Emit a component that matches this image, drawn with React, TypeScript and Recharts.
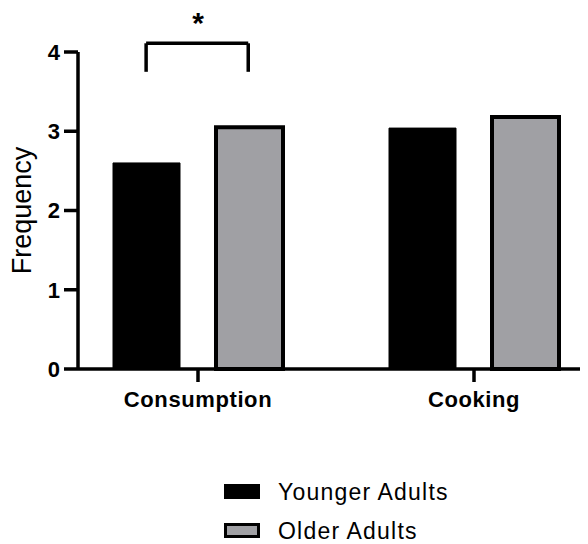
import React from 'react';
import { BarChart, Bar, XAxis, YAxis, Legend, ReferenceLine, ReferenceDot, Label } from 'recharts';

const categories = ['Consumption', 'Cooking'];
const youngerAdults = [2.6, 3.04];
const olderAdults = [3.05, 3.18];
const yTicks = [0, 1, 2, 3, 4];
const seriesNames = ['Younger Adults', 'Older Adults'];
// bracket positions on a 0..1 horizontal scale spanning the two category bands
const bracketX = [0.156, 0.341];
const bracketY = [3.75, 4.11];
const starPos = [0.25, 4.37];

const data = categories.map((c, i) => ({
  category: c,
  younger: youngerAdults[i],
  older: olderAdults[i],
}));

const FONT = '"Liberation Sans", Arial, sans-serif';
const AX = { stroke: '#000', strokeWidth: 3.5 };

const renderLegend = (props: any) => {
  const payload = [...(props.payload || [])].sort(
    (a: any, b: any) => seriesNames.indexOf(a.value) - seriesNames.indexOf(b.value)
  );
  return (
    <div style={{ paddingLeft: 224, fontFamily: FONT, fontSize: 23, letterSpacing: 1.2, color: '#000' }}>
      {payload.map((e: any, i: number) => (
        <div key={i} style={{ display: 'flex', alignItems: 'flex-start', height: 39 }}>
          <svg width={36} height={15} style={{ display: 'block', marginTop: 5 }}>
            <rect x={1.5} y={1.5} width={33} height={12} fill={e.color} stroke="#000" strokeWidth={3} />
          </svg>
          <span style={{ marginLeft: 18, lineHeight: '26px' }}>{e.value}</span>
        </div>
      ))}
    </div>
  );
};

const yLabel = (props: any) => {
  const { viewBox } = props;
  const cx = viewBox.x + 14;
  const cy = viewBox.y + viewBox.height / 2;
  return (
    <text x={cx} y={cy} transform={`rotate(-90, ${cx}, ${cy})`} textAnchor="middle" dominantBaseline="central"
      fontFamily={FONT} fontSize={27} fill="#000">
      Frequency
    </text>
  );
};

export default function App() {
  return (
    <div style={{ marginTop: -8, marginLeft: -8, width: 588, height: 544 }}>
      <BarChart
        width={588}
        height={544}
        data={data}
        margin={{ top: 52, right: 0, left: 8, bottom: 125 }}
        barSize={67}
        barGap={36}
      >
        <XAxis
          dataKey="category"
          padding={{ left: -18, right: -24 }}
          axisLine={AX}
          tickLine={AX}
          tickSize={13}
          tickMargin={9}
          height={50}
          tick={{ fontFamily: FONT, fontSize: 22, fontWeight: 'bold', fill: '#000', letterSpacing: 0.6 }}
        />
        <XAxis
          xAxisId="num"
          type="number"
          domain={[0, 1]}
          allowDataOverflow
          padding={{ left: -18, right: -24 }}
          hide
        />
        <YAxis
          width={70}
          domain={[0, 4]}
          ticks={yTicks}
          interval={0}
          axisLine={AX}
          tickLine={AX}
          tickSize={14}
          tickMargin={4}
          tick={{ fontFamily: FONT, fontSize: 22, fontWeight: 'bold', fill: '#000' }}
        >
          <Label content={yLabel} />
        </YAxis>
        <Legend
          layout="horizontal"
          verticalAlign="middle"
          align="center"
          content={renderLegend}
          wrapperStyle={{ top: 479, left: 0, width: 588 }}
        />
        <Bar dataKey="younger" name={seriesNames[0]} fill="#000" stroke="#000" strokeWidth={1} isAnimationActive={false} />
        <Bar dataKey="older" name={seriesNames[1]} fill="#a0a0a4" stroke="#000" strokeWidth={4} isAnimationActive={false} />
        <ReferenceLine xAxisId="num" ifOverflow="visible" segment={[{ x: bracketX[0], y: bracketY[1] }, { x: bracketX[1], y: bracketY[1] }]} stroke="#000" strokeWidth={3.5} />
        <ReferenceLine xAxisId="num" ifOverflow="visible" segment={[{ x: bracketX[0], y: bracketY[0] }, { x: bracketX[0], y: bracketY[1] }]} stroke="#000" strokeWidth={3.5} />
        <ReferenceLine xAxisId="num" ifOverflow="visible" segment={[{ x: bracketX[1], y: bracketY[0] }, { x: bracketX[1], y: bracketY[1] }]} stroke="#000" strokeWidth={3.5} />
        <ReferenceDot
          xAxisId="num"
          x={starPos[0]}
          y={starPos[1]}
          r={0}
          ifOverflow="visible"
          fill="none"
          stroke="none"
          label={{ value: '*', position: 'center', fontFamily: FONT, fontSize: 30, fontWeight: 'bold', fill: '#000' }}
        />
      </BarChart>
    </div>
  );
}
